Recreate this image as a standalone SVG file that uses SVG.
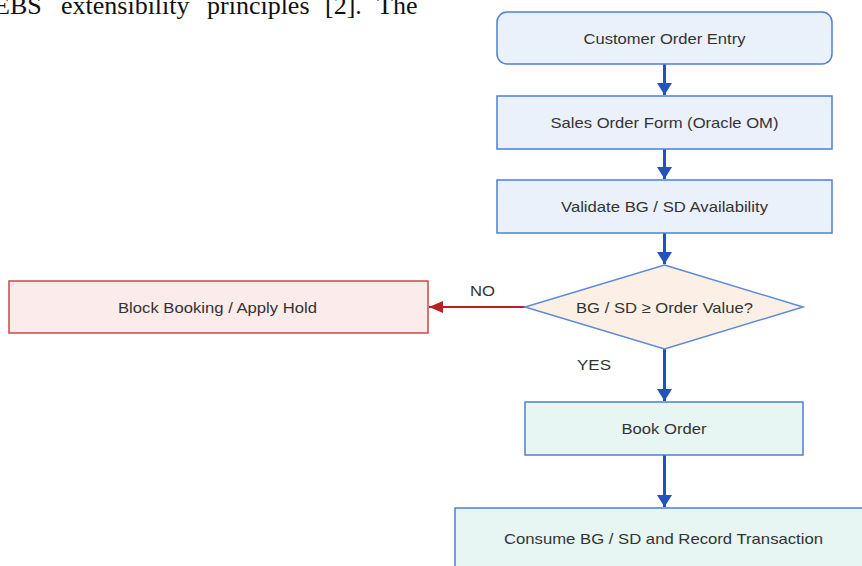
<svg xmlns="http://www.w3.org/2000/svg" width="862" height="566" viewBox="0 0 862 566">
  <style>
    .lbl { font-family: "Liberation Sans", Arial, sans-serif; font-size: 15px; fill: #333; text-anchor: middle; dominant-baseline: central; }
    .blue { fill: #eaf1fb; stroke: #4d7fd6; stroke-width: 1.5; }
    .teal { fill: #e7f6f3; stroke: #4d7fd6; stroke-width: 1.5; }
    .red { fill: #fcebeb; stroke: #c9474a; stroke-width: 1.5; }
    .dec { fill: #fbefe6; stroke: #5b8ad8; stroke-width: 1.5; }
    .flow { stroke: #2452bd; stroke-width: 3; fill: none; }
    .no { stroke: #b42222; stroke-width: 2; fill: none; }
    .body { font-family: "Liberation Serif", "Times New Roman", serif; font-size: 26px; fill: #111; }
  </style>
  <defs>
    <marker id="arrBlue" markerUnits="userSpaceOnUse" markerWidth="16" markerHeight="16" refX="12" refY="8" orient="auto">
      <path d="M0,0.5 L12,8 L0,15.5 Z" fill="#2452bd"/>
    </marker>
    <marker id="arrRed" markerUnits="userSpaceOnUse" markerWidth="16" markerHeight="12" refX="14" refY="6" orient="auto">
      <path d="M0,0 L14,6 L0,12 Z" fill="#b42222"/>
    </marker>
  </defs>

  <rect width="862" height="566" fill="#ffffff"/>

  <!-- running text of the surrounding page, cut off at the top -->
  <text class="body" y="14"><tspan x="-6">EBS</tspan><tspan x="61">extensibility</tspan><tspan x="207">principles</tspan><tspan x="325">[2].</tspan><tspan x="377">The</tspan></text>

  <g id="connectors">
    <line class="flow" x1="664.5" y1="64" x2="664.5" y2="95" marker-end="url(#arrBlue)"/>
    <line class="flow" x1="664.5" y1="149" x2="664.5" y2="179" marker-end="url(#arrBlue)"/>
    <line class="flow" x1="664.5" y1="233" x2="664.5" y2="264" marker-end="url(#arrBlue)"/>
    <line class="flow" x1="664.5" y1="349" x2="664.5" y2="401" marker-end="url(#arrBlue)"/>
    <line class="flow" x1="664.5" y1="455" x2="664.5" y2="507" marker-end="url(#arrBlue)"/>
    <line class="no" x1="525" y1="307" x2="429" y2="307" marker-end="url(#arrRed)"/>
    <text class="lbl" x="482.5" y="290" textLength="25" lengthAdjust="spacingAndGlyphs">NO</text>
    <text class="lbl" x="594" y="364" textLength="34" lengthAdjust="spacingAndGlyphs">YES</text>
  </g>

  <g id="entry">
    <rect class="blue" x="497" y="12" width="335" height="52" rx="10"/>
    <text class="lbl" x="664.5" y="38" textLength="162" lengthAdjust="spacingAndGlyphs">Customer Order Entry</text>
  </g>

  <g id="salesForm">
    <rect class="blue" x="497" y="96" width="335" height="53"/>
    <text class="lbl" x="664.5" y="122" textLength="228" lengthAdjust="spacingAndGlyphs">Sales Order Form (Oracle OM)</text>
  </g>

  <g id="validate">
    <rect class="blue" x="497" y="180" width="335" height="53"/>
    <text class="lbl" x="664.5" y="206" textLength="207" lengthAdjust="spacingAndGlyphs">Validate BG / SD Availability</text>
  </g>

  <g id="decision">
    <polygon class="dec" points="664.5,265 803,307 664.5,349 525,307"/>
    <text class="lbl" x="664.5" y="307" textLength="177" lengthAdjust="spacingAndGlyphs">BG / SD ≥ Order Value?</text>
  </g>

  <g id="block">
    <rect class="red" x="9" y="281" width="419" height="52"/>
    <text class="lbl" x="217.5" y="307" textLength="199" lengthAdjust="spacingAndGlyphs">Block Booking / Apply Hold</text>
  </g>

  <g id="book">
    <rect class="teal" x="525" y="402" width="278" height="53"/>
    <text class="lbl" x="664" y="428" textLength="85" lengthAdjust="spacingAndGlyphs">Book Order</text>
  </g>

  <g id="consume">
    <rect class="teal" x="455" y="508" width="419" height="70"/>
    <text class="lbl" x="663.5" y="538" textLength="319" lengthAdjust="spacingAndGlyphs">Consume BG / SD and Record Transaction</text>
  </g>
</svg>
